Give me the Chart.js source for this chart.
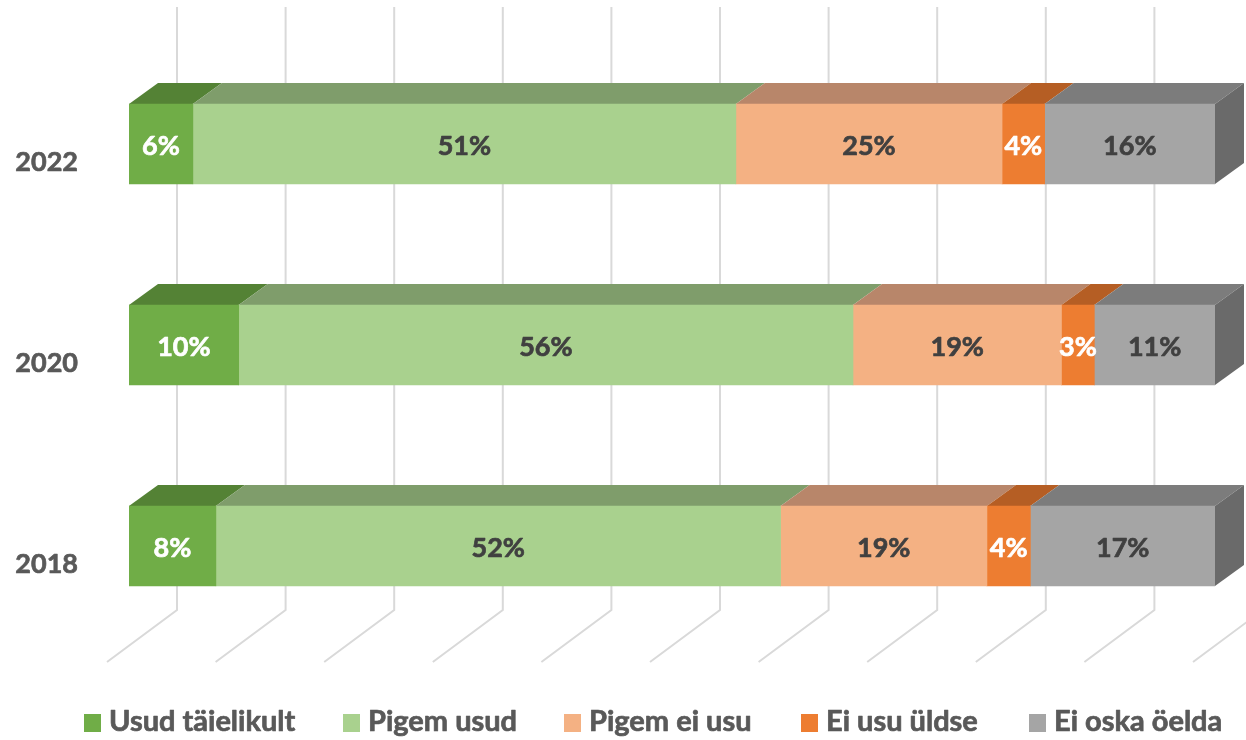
<!DOCTYPE html>
<html>
<head>
<meta charset="utf-8">
<title>Usaldus</title>
<script src="https://cdn.jsdelivr.net/npm/chart.js@4"></script>
<style>
  html, body { margin: 0; padding: 0; background: #fff; }
  #wrap { width: 1246px; height: 740px; }
</style>
</head>
<body>
<div id="wrap"><canvas id="cv"></canvas></div>
<script>
// ── Data ─────────────────────────────────────────────
const years = ['2022', '2020', '2018'];
const seriesNames = ['Usud täielikult', 'Pigem usud', 'Pigem ei usu', 'Ei usu üldse', 'Ei oska öelda'];
const usudTaielikult = [6, 10, 8];
const pigemUsud      = [51, 56, 52];
const pigemEiUsu     = [25, 19, 19];
const eiUsuUldse     = [4, 3, 4];
const eiOskaOelda    = [16, 11, 17];
const xTicks = [0, 10, 20, 30, 40, 50, 60, 70, 80, 90, 100];

// ── Style ────────────────────────────────────────────
const front = ['#70AD47', '#A9D18E', '#F4B183', '#ED7D31', '#A5A5A5'];
const top3d = ['#548235', '#7F9D6B', '#B8866A', '#B55E24', '#7C7C7C'];
const side3d = '#6A6A6A';
const labelInk = ['#ffffff', '#404040', '#404040', '#ffffff', '#404040'];
const FF = 'Lato, "Open Sans", sans-serif';
const DEPTH = { dx: 29, dy: -21 };     // bar depth offset
const WALL = { dx: 48 };               // back wall offset from bar front
const FLOOR = { y: 610, dx: -70, dy: 52 };

const raw = [usudTaielikult, pigemUsud, pigemEiUsu, eiUsuUldse, eiOskaOelda];
// 100% stacked: each year's shares scaled to its own total
const totals = years.map((_, i) => raw.reduce((s, arr) => s + arr[i], 0));

// bold text with a hairline stroke so it sits heavier
function heavyText(ctx, txt, x, y, color) {
  ctx.fillStyle = color;
  ctx.strokeStyle = color;
  ctx.lineWidth = 0.7;
  ctx.lineJoin = 'round';
  ctx.fillText(txt, x, y);
  ctx.strokeText(txt, x, y);
}

// ── 3D faces, walls, labels ──────────────────────────
const threeD = {
  id: 'threeD',
  beforeDatasetsDraw(chart) {
    const { ctx } = chart;
    const xs = chart.scales.x;
    ctx.save();
    // back wall gridlines + floor
    ctx.strokeStyle = '#D9D9D9';
    ctx.lineWidth = 2;
    xTicks.forEach(v => {
      const x = xs.getPixelForValue(v) + WALL.dx;
      ctx.beginPath();
      ctx.moveTo(x, 7);
      ctx.lineTo(x, FLOOR.y);
      ctx.lineTo(x + FLOOR.dx, FLOOR.y + FLOOR.dy);
      ctx.stroke();
    });
    // top and side faces
    chart.data.datasets.forEach((ds, di) => {
      const meta = chart.getDatasetMeta(di);
      meta.data.forEach(bar => {
        const p = bar.getProps(['x', 'y', 'base', 'height'], true);
        const t = p.y - p.height / 2, b = p.y + p.height / 2;
        ctx.fillStyle = top3d[di];
        ctx.beginPath();
        ctx.moveTo(p.base, t);
        ctx.lineTo(p.x, t);
        ctx.lineTo(p.x + DEPTH.dx, t + DEPTH.dy);
        ctx.lineTo(p.base + DEPTH.dx, t + DEPTH.dy);
        ctx.closePath();
        ctx.fill();
        if (di === chart.data.datasets.length - 1) {
          ctx.fillStyle = side3d;
          ctx.beginPath();
          ctx.moveTo(p.x, t);
          ctx.lineTo(p.x + DEPTH.dx, t + DEPTH.dy);
          ctx.lineTo(p.x + DEPTH.dx, b + DEPTH.dy);
          ctx.lineTo(p.x, b);
          ctx.closePath();
          ctx.fill();
        }
      });
    });
    ctx.restore();
  },
  afterDatasetsDraw(chart) {
    const { ctx } = chart;
    const ys = chart.scales.y;
    ctx.save();
    ctx.textBaseline = 'middle';
    ctx.textAlign = 'center';
    ctx.font = `bold 27px ${FF}`;
    chart.data.datasets.forEach((ds, di) => {
      chart.getDatasetMeta(di).data.forEach((bar, i) => {
        const p = bar.getProps(['x', 'y', 'base'], true);
        heavyText(ctx, raw[di][i] + '%', (p.x + p.base) / 2, p.y + 2, labelInk[di]);
      });
    });
    // category labels
    ctx.textAlign = 'right';
    years.forEach((yr, i) => {
      heavyText(ctx, yr, 78, ys.getPixelForValue(i) + 18, '#595959');
    });
    // legend
    const legendX = [84, 343, 564, 801, 1029];
    ctx.textAlign = 'left';
    ctx.font = `bold 29px ${FF}`;
    seriesNames.forEach((name, i) => {
      ctx.fillStyle = front[i];
      ctx.fillRect(legendX[i], 714, 17, 18);
      heavyText(ctx, name, legendX[i] + 25, 722, '#595959');
    });
    ctx.restore();
  }
};

new Chart(document.getElementById('cv'), {
  type: 'bar',
  data: {
    labels: years,
    datasets: seriesNames.map((name, di) => ({
      label: name,
      data: raw[di].map((v, i) => v / totals[i] * 100),
      backgroundColor: front[di],
      borderWidth: 0,
      barThickness: 80,
    })),
  },
  options: {
    indexAxis: 'y',
    responsive: true,
    maintainAspectRatio: false,
    animation: false,
    layout: { padding: { left: 129, right: 31, top: 43.5, bottom: 93.5 } },
    plugins: { legend: { display: false }, tooltip: { enabled: false } },
    scales: {
      x: { stacked: true, min: 0, max: 100, display: false },
      y: { stacked: true, display: false },
    },
  },
  plugins: [threeD],
});
</script>
</body>
</html>
